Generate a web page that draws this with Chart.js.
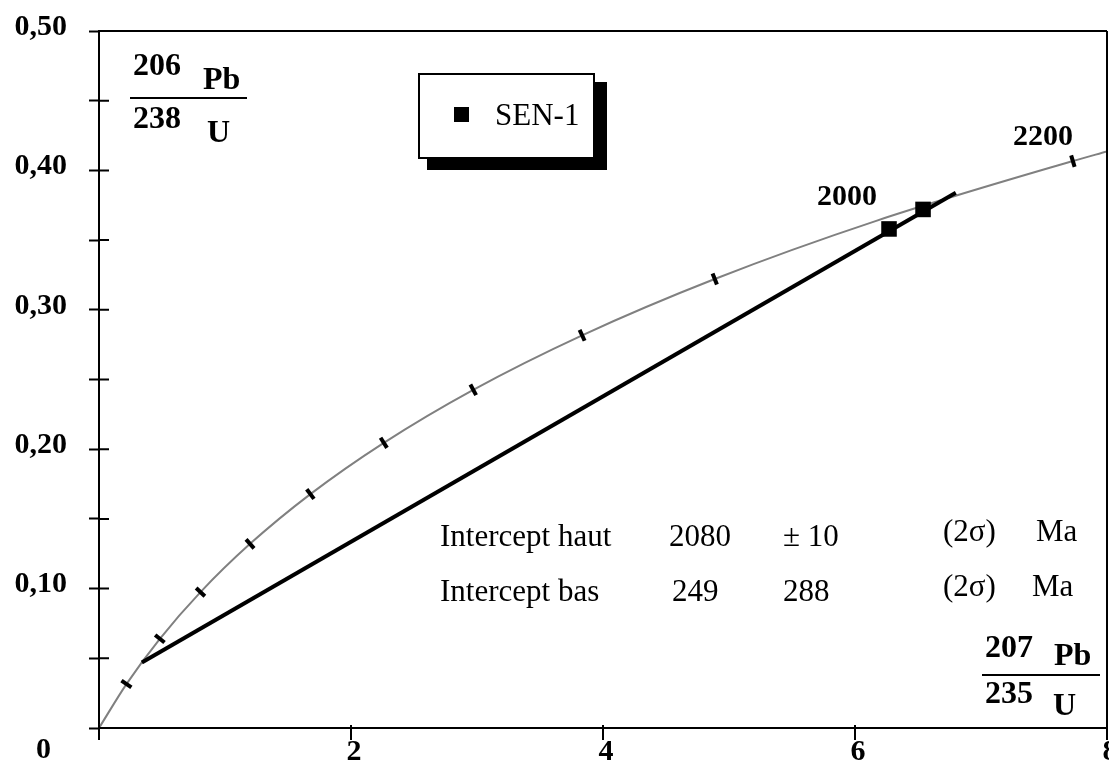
<!DOCTYPE html>
<html><head><meta charset="utf-8">
<script src="https://cdn.jsdelivr.net/npm/chart.js@4.4.0/dist/chart.umd.min.js"></script>
<style>html,body{margin:0;padding:0;background:#fff;overflow:hidden}</style>
</head><body>
<canvas id="c" width="1109" height="765"></canvas>
<script>
// ---- data ----
const concordiaAges = [0, 200, 400, 600, 800, 1000, 1200, 1400, 1600, 1800, 2000, 2200, 2231];
const concordiaX = [0, 0.2177, 0.4828, 0.8056, 1.1987, 1.6774, 2.2603, 2.9701, 3.8342, 4.8869, 6.1685, 7.7292, 8.0];
const concordiaY = [0, 0.0315, 0.0640, 0.0975, 0.1321, 0.1678, 0.2046, 0.2426, 0.2817, 0.3221, 0.3638, 0.4067, 0.4136];
const markedAges = [200, 400, 600, 800, 1000, 1200, 1400, 1600, 1800, 2200];
const sampleName = 'SEN-1';
const sampleX = [6.27, 6.54];
const sampleY = [0.358, 0.372];
const discordiaX = [0.34, 6.80];
const discordiaY = [0.047, 0.384];
const labelledAges = [2000, 2200];
const interceptRows = [
  ['Intercept haut', '2080', '\u00B1 10', '(2\u03C3)', 'Ma'],
  ['Intercept bas', '249', '288', '(2\u03C3)', 'Ma']
];
const yAxisTitle = ['206', 'Pb', '238', 'U'];
const xAxisTitle = ['207', 'Pb', '235', 'U'];

const SERIF = "'Liberation Serif', 'Times New Roman', serif";
Chart.defaults.font.family = SERIF;
Chart.defaults.color = '#000';

function pts(xs, ys) { return xs.map((x, i) => ({x: x, y: ys[i]})); }

const decorPlugin = {
  id: 'decor',
  afterDraw(chart) {
    const ctx = chart.ctx, a = chart.chartArea;
    const xs = chart.scales.x, ys = chart.scales.y;
    ctx.save();
    ctx.strokeStyle = '#000';
    ctx.lineWidth = 2;
    ctx.beginPath();
    ctx.moveTo(a.left, a.top); ctx.lineTo(a.right, a.top);
    ctx.moveTo(a.right, a.top); ctx.lineTo(a.right, a.bottom);
    // inner half of y ticks
    ys.ticks.forEach(t => {
      const py = ys.getPixelForValue(t.value);
      ctx.moveTo(a.left, py); ctx.lineTo(a.left + 10, py);
    });
    // x ticks (down from the axis)
    xs.ticks.forEach(t => {
      const px = xs.getPixelForValue(t.value);
      ctx.moveTo(px, a.bottom - 3); ctx.lineTo(px, a.bottom + 12);
    });
    ctx.stroke();

    ctx.fillStyle = '#000';
    ctx.textBaseline = 'alphabetic';
    ctx.textAlign = 'left';
    // origin label
    ctx.font = 'bold 30px ' + SERIF;
    ctx.fillText('0', 36, 758);

    // axis titles (fractions)
    ctx.font = 'bold 32px ' + SERIF;
    ctx.fillText(yAxisTitle[0], 133, 75);
    ctx.fillText(yAxisTitle[1], 203, 89);
    ctx.fillText(yAxisTitle[2], 133, 128);
    ctx.fillText(yAxisTitle[3], 207, 142);
    ctx.fillText(xAxisTitle[0], 985, 657);
    ctx.fillText(xAxisTitle[1], 1054, 665);
    ctx.fillText(xAxisTitle[2], 985, 703);
    ctx.fillText(xAxisTitle[3], 1053, 715);
    ctx.beginPath();
    ctx.moveTo(130, 98); ctx.lineTo(247, 98);
    ctx.moveTo(982, 675); ctx.lineTo(1100, 675);
    ctx.stroke();

    // age labels
    ctx.font = 'bold 30px ' + SERIF;
    ctx.fillText(String(labelledAges[0]), 817, 205);
    ctx.fillText(String(labelledAges[1]), 1013, 145);

    // intercept text
    ctx.font = '31px ' + SERIF;
    const cols = [[440, 669, 783, 943, 1036], [440, 672, 783, 943, 1032]];
    const bases = [[546, 546, 546, 541, 541], [601, 601, 601, 596, 596]];
    interceptRows.forEach((row, r) => {
      row.forEach((txt, c) => ctx.fillText(txt, cols[r][c], bases[r][c]));
    });

    // legend box with shadow
    ctx.fillStyle = '#000';
    ctx.fillRect(427, 82, 180, 88);
    ctx.fillStyle = '#fff';
    ctx.fillRect(419, 74, 175, 84);
    ctx.strokeRect(419, 74, 175, 84);
    ctx.fillStyle = '#000';
    ctx.fillRect(454, 107, 15, 15);
    ctx.font = '31px ' + SERIF;
    ctx.fillText(chart.data.datasets[2].label, 495, 125);
    ctx.restore();
  }
};

function tickRotation(ctx) {
  const chart = ctx.chart, i = ctx.dataIndex;
  const xs = chart.scales.x, ys = chart.scales.y;
  if (!xs || !ys) return 0;
  const i0 = Math.max(0, i - 1), i1 = Math.min(concordiaX.length - 1, i + 1);
  const dx = xs.getPixelForValue(concordiaX[i1]) - xs.getPixelForValue(concordiaX[i0]);
  const dy = ys.getPixelForValue(concordiaY[i1]) - ys.getPixelForValue(concordiaY[i0]);
  return Math.atan2(dy, dx) * 180 / Math.PI + 90;
}

new Chart(document.getElementById('c'), {
  type: 'scatter',
  data: {
    datasets: [
      {
        label: 'Concordia',
        data: pts(concordiaX, concordiaY),
        showLine: true,
        borderColor: '#808080',
        borderWidth: 2,
        cubicInterpolationMode: 'monotone',
        pointStyle: 'line',
        pointRadius: ctx => markedAges.includes(concordiaAges[ctx.dataIndex]) ? 6 : 0,
        pointBorderWidth: 4,
        pointBorderColor: '#000',
        pointRotation: tickRotation,
        order: 3
      },
      {
        label: 'Discordia',
        data: pts(discordiaX, discordiaY),
        showLine: true,
        borderColor: '#000',
        borderWidth: 4,
        pointRadius: 0,
        order: 2
      },
      {
        label: sampleName,
        data: pts(sampleX, sampleY),
        showLine: false,
        pointStyle: 'rect',
        pointRadius: 11,
        backgroundColor: '#000',
        borderColor: '#000',
        borderWidth: 0,
        order: 1
      }
    ]
  },
  options: {
    responsive: false,
    animation: false,
    devicePixelRatio: 1,
    layout: { autoPadding: false, padding: { top: 31, right: 2, left: 0, bottom: 0 } },
    plugins: { legend: { display: false }, tooltip: { enabled: false } },
    scales: {
      x: {
        type: 'linear', min: 0, max: 8,
        border: { display: true, color: '#000', width: 2 },
        grid: { display: true, drawOnChartArea: false, drawTicks: false, color: '#000' },
        ticks: {
          stepSize: 2, padding: 6, maxRotation: 0, autoSkip: false, labelOffset: 3,
          font: { size: 30, weight: 'bold', family: SERIF }, color: '#000',
          callback: v => v === 0 ? '' : String(v)
        },
        afterFit: s => { s.height = 37; s.paddingLeft = 0; s.paddingRight = 0; }
      },
      y: {
        type: 'linear', min: 0, max: 0.5,
        border: { display: true, color: '#000', width: 2 },
        grid: { display: true, drawOnChartArea: false, drawTicks: true, tickLength: 10, tickWidth: 2, tickColor: '#000', color: '#000' },
        ticks: {
          stepSize: 0.05, padding: 22, labelOffset: -4, autoSkip: false,
          font: { size: 30, weight: 'bold', family: SERIF }, color: '#000',
          callback: v => {
            const k = Math.round(v * 100);
            if (k === 0 || k % 10 !== 0) return '';
            return (k / 100).toFixed(2).replace('.', ',');
          }
        },
        afterFit: s => { s.width = 99; s.paddingTop = 0; s.paddingBottom = 0; }
      }
    }
  },
  plugins: [decorPlugin]
});
</script>
</body></html>
